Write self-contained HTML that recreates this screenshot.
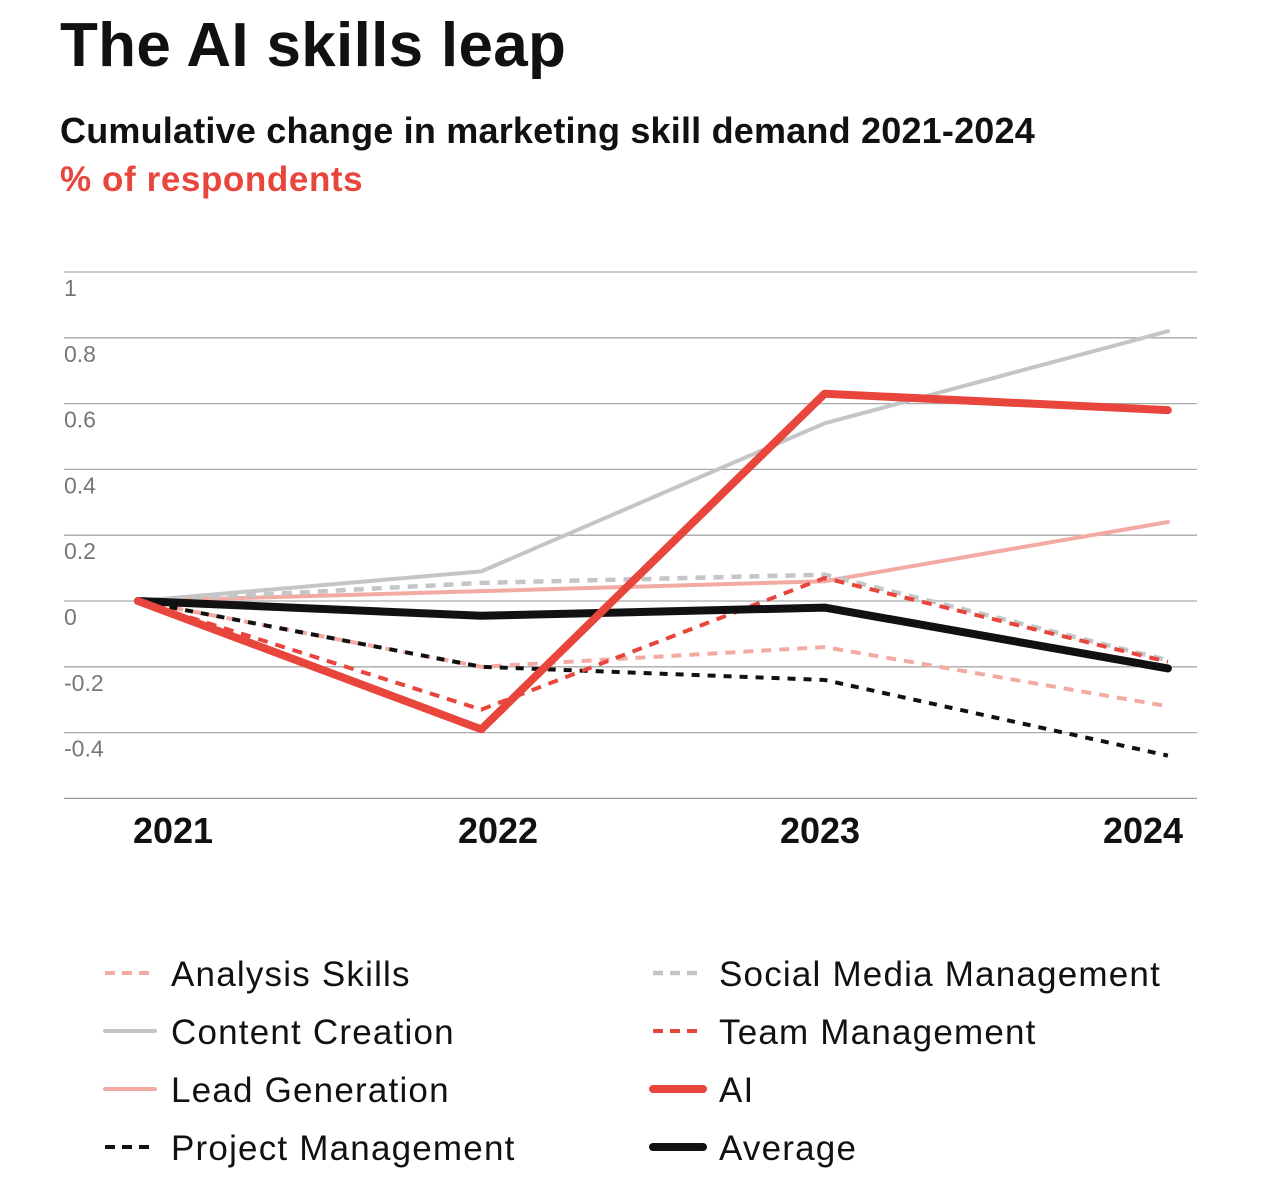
<!DOCTYPE html>
<html><head><meta charset="utf-8">
<style>
body{margin:0;width:1268px;height:1194px;background:#fff;font-family:"Liberation Sans",sans-serif;overflow:hidden;position:relative}
.t{position:absolute;left:60px;margin:0;white-space:nowrap}
</style></head>
<body>
<h1 class="t" style="top:10px;font-size:62px;font-weight:bold;color:#111;letter-spacing:0.3px">The AI skills leap</h1>
<div class="t" style="top:110px;font-size:36px;font-weight:bold;color:#111;letter-spacing:0.2px">Cumulative change in marketing skill demand 2021-2024</div>
<div class="t" style="top:160px;font-size:35px;font-weight:bold;color:#e8453c;letter-spacing:0.6px">% of respondents</div>
<svg id="chart" width="1268" height="1194" style="position:absolute;left:0;top:0"></svg>
<script>
const years=["2021","2022","2023","2024"];
const yTicks=[1,0.8,0.6,0.4,0.2,0,-0.2,-0.4,-0.6];
const analysis=[0,-0.2,-0.14,-0.32];
const content=[0,0.09,0.54,0.82];
const lead=[0,0.03,0.06,0.24];
const project=[0,-0.2,-0.24,-0.47];
const social=[0,0.055,0.08,-0.18];
const team=[0,-0.33,0.07,-0.185];
const ai=[0,-0.39,0.63,0.58];
const average=[0,-0.045,-0.02,-0.205];
const series=[
 {name:"Analysis Skills",v:analysis,c:"#f2aaa3",w:4,d:"10 8"},
 {name:"Content Creation",v:content,c:"#c3c5c7",w:4,d:""},
 {name:"Lead Generation",v:lead,c:"#f2aaa3",w:4,d:""},
 {name:"Social Media Management",v:social,c:"#c3c5c7",w:4.5,d:"10 8"},
 {name:"Project Management",v:project,c:"#111",w:4,d:"8 8"},
 {name:"Team Management",v:team,c:"#e8453c",w:4,d:"10 8"},
 {name:"Average",v:average,c:"#111",w:8,d:""},
 {name:"AI",v:ai,c:"#e8453c",w:8,d:""}
];
const NS="http://www.w3.org/2000/svg";
const svg=document.getElementById("chart");
const X=i=>138+i*343.3;
const Y=v=>601-v*329;
function mk(t,a){const e=document.createElementNS(NS,t);for(const k in a)e.setAttribute(k,a[k]);svg.appendChild(e);return e;}
yTicks.forEach(t=>{
 const l=mk("line",{x1:64,x2:1197,y1:Y(t),y2:Y(t),stroke:t===-0.6?"#999":"#aaa","stroke-width":1.3});
 
 
 if(t>-0.6){const tx=mk("text",{x:64,y:Y(t)+24,"font-size":23,fill:"#777","font-family":"Liberation Sans"});tx.textContent=t;
 
 }
});
const xl=[173,498,820,1143];
years.forEach((y,i)=>{
 const tx=mk("text",{x:xl[i],y:843,"font-size":36,"font-weight":"bold",fill:"#111","text-anchor":"middle","font-family":"Liberation Sans"});tx.textContent=y;
 
 
});
series.forEach(s=>{
 const p=mk("polyline",{points:s.v.map((v,i)=>X(i)+","+Y(v)).join(" "),fill:"none",stroke:s.c,"stroke-width":s.w,"stroke-dasharray":s.d,"stroke-linejoin":"round","stroke-linecap":s.d?"butt":"round"});
 
 
});
const legend=[
 ["Analysis Skills",0,105,973],["Content Creation",1,105,1031],["Lead Generation",2,105,1089],["Project Management",4,105,1147],
 ["Social Media Management",3,653,973],["Team Management",5,653,1031],["AI",7,653,1089],["Average",6,653,1147]];
legend.forEach(([n,k,x,y])=>{
 const s=series[k];
 const l=mk("line",{x1:x,x2:x+50,y1:y,y2:y,stroke:s.c,"stroke-width":s.w,"stroke-dasharray":s.d?"10 7":"","stroke-linecap":s.d?"butt":"round"});
 
 
 const t=mk("text",{x:x+66,y:y+13,"font-size":35,"letter-spacing":1.2,fill:"#111","font-family":"Liberation Sans"});t.textContent=n;
 
 
});
</script>
</body></html>
